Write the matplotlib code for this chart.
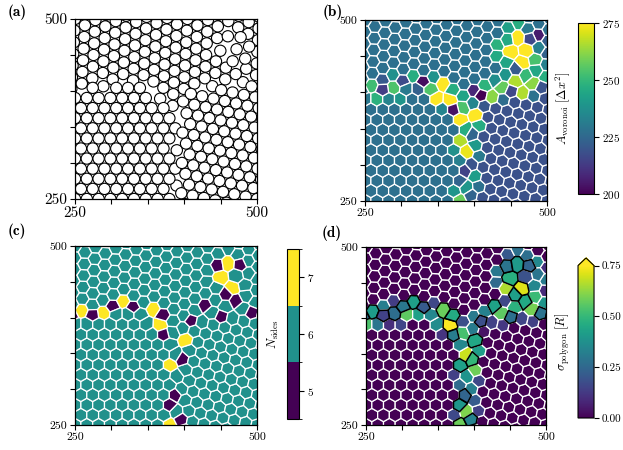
import numpy as np
import matplotlib
matplotlib.use("Agg")
import matplotlib.pyplot as plt
import matplotlib.tri as mtri
from matplotlib.collections import PolyCollection, PatchCollection
from matplotlib.colors import ListedColormap, BoundaryNorm, Normalize
from matplotlib.patches import Circle
from matplotlib.cm import ScalarMappable

plt.rcParams['mathtext.fontset'] = 'cm'
plt.rcParams['font.family'] = 'cmr10'
plt.rcParams['axes.formatter.use_mathtext'] = True

# grains: lattice angle (deg), spacing, origin
# top, lower left, right, small island in the top right corner
grain_angle = [27.0, 0.0, -12.0, 12.0]
grain_spacing = [16.2, 16.2, 15.9, 17.6]
grain_origin_x = [250.0, 250.0, 500.0, 472.0]
grain_origin_y = [500.0, 250.0, 250.0, 458.0]

# boundary between the top grain and the two lower ones (y as a function of x)
top_edge_x = [150, 250, 300, 345, 370, 390, 410, 440, 480, 500, 600]
top_edge_y = [398, 400, 410, 415, 382, 372, 402, 408, 412, 410, 410]
# boundary between the lower left and the right grain (x as a function of y)
side_edge_y = [150, 250, 300, 330, 372]
side_edge_x = [392, 392, 387, 396, 392]
# island in the top right corner
island_x, island_y, island_r = 472.0, 458.0, 19.0

R = 7.8
lims = (250, 500)
ticks = [250, 300, 350, 400, 450, 500]
ticklabels = ['250', '', '', '', '', '500']

area_range = (200, 275)
area_ticks = [200, 225, 250, 275]
sides_ticks = [5, 6, 7]
sigma_range = (0.0, 0.75)
sigma_ticks = [0.0, 0.25, 0.5, 0.75]


def grain_of(px, py):
    yb = np.interp(px, top_edge_x, top_edge_y)
    xb = np.interp(py, side_edge_y, side_edge_x)
    g = np.where(py > yb, 0, np.where(px < xb, 1, 2))
    return np.where(np.hypot(px - island_x, py - island_y) < island_r, 3, g)


# build the particle positions grain by grain, merging pairs that sit too close
pts = np.zeros((0, 2))
for g in range(4):
    th = np.radians(grain_angle[g])
    a = grain_spacing[g]
    e1 = a * np.array([np.cos(th), np.sin(th)])
    e2 = a * np.array([np.cos(th + np.pi / 3), np.sin(th + np.pi / 3)])
    I, J = np.meshgrid(np.arange(-45, 46), np.arange(-45, 46))
    P = np.array([grain_origin_x[g], grain_origin_y[g]]) + I.ravel()[:, None] * e1 + J.ravel()[:, None] * e2
    P = P[(P[:, 0] > 180) & (P[:, 0] < 570) & (P[:, 1] > 180) & (P[:, 1] < 570)]
    P = P[grain_of(P[:, 0], P[:, 1]) == g]
    if len(pts):
        D = np.sqrt(((P[:, None, :] - pts[None, :, :]) ** 2).sum(-1))
        near = D.argmin(1)
        close = D.min(1) < 0.62 * a
        for p, k in zip(P[close], near[close]):
            pts[k] = 0.5 * (pts[k] + p)
        P = P[~close]
    pts = np.vstack([pts, P])

x, y = pts[:, 0], pts[:, 1]

# voronoi cells from the delaunay triangulation
tri = mtri.Triangulation(x, y)
T = tri.triangles
ax_, ay_ = x[T[:, 0]], y[T[:, 0]]
bx_, by_ = x[T[:, 1]], y[T[:, 1]]
cx_, cy_ = x[T[:, 2]], y[T[:, 2]]
dd = 2 * (ax_ * (by_ - cy_) + bx_ * (cy_ - ay_) + cx_ * (ay_ - by_))
ux = ((ax_**2 + ay_**2) * (by_ - cy_) + (bx_**2 + by_**2) * (cy_ - ay_) + (cx_**2 + cy_**2) * (ay_ - by_)) / dd
uy = ((ax_**2 + ay_**2) * (cx_ - bx_) + (bx_**2 + by_**2) * (ax_ - cx_) + (cx_**2 + cy_**2) * (bx_ - ax_)) / dd

owner = [[] for _ in range(len(x))]
for t, (i, j, k) in enumerate(T):
    owner[i].append(t)
    owner[j].append(t)
    owner[k].append(t)

polys, areas, nsides, sigmas = [], [], [], []
for i in range(len(x)):
    if not (225 < x[i] < 525 and 225 < y[i] < 525):
        continue
    v = np.column_stack([ux[owner[i]], uy[owner[i]]])
    ang = np.arctan2(v[:, 1] - y[i], v[:, 0] - x[i])
    v = v[np.argsort(ang)]
    keep = [v[0]]
    for p in v[1:]:
        if np.hypot(*(p - keep[-1])) > 1.0:
            keep.append(p)
    if len(keep) > 1 and np.hypot(*(keep[0] - keep[-1])) < 1.0:
        keep.pop()
    v = np.array(keep)
    edges = np.hypot(*(np.roll(v, -1, axis=0) - v).T)
    area = 0.5 * abs(np.dot(v[:, 0], np.roll(v[:, 1], -1)) - np.dot(v[:, 1], np.roll(v[:, 0], -1)))
    polys.append(v)
    areas.append(area)
    nsides.append(len(v))
    sigmas.append(edges.std() / 7.0)

areas = np.array(areas)
nsides = np.array(nsides)
sigmas = np.array(sigmas)

fig = plt.figure(figsize=(6.23, 4.5), dpi=100)


def setup(ax, size):
    ax.set_xlim(*lims)
    ax.set_ylim(*lims)
    ax.set_xticks(ticks)
    ax.set_yticks(ticks)
    ax.set_xticklabels(ticklabels)
    ax.set_yticklabels(ticklabels)
    ax.tick_params(direction='out', length=3.5, width=0.8, labelsize=size, pad=2)
    for s in ax.spines.values():
        s.set_linewidth(0.9)


# (a) particles
ax1 = fig.add_axes([0.1204, 0.5578, 0.2921, 0.4])
circles = [Circle((px, py), R) for px, py in zip(x, y)]
ax1.add_collection(PatchCollection(circles, facecolor='white', edgecolor='black', linewidth=0.8))
setup(ax1, 11)

# (b) voronoi area
ax2 = fig.add_axes([0.5859, 0.5533, 0.2921, 0.4022])
norm_a = Normalize(*area_range)
pc = PolyCollection(polys, array=areas, cmap='viridis', norm=norm_a, edgecolors='white', linewidths=0.9)
ax2.add_collection(pc)
setup(ax2, 8.5)
cax2 = fig.add_axes([0.9278, 0.5689, 0.0257, 0.38])
cb2 = fig.colorbar(pc, cax=cax2, ticks=area_ticks)
cb2.set_label(r'$A_{\rm voronoi}\ [\Delta x^2]$', fontsize=9)

# (c) number of sides
ax3 = fig.add_axes([0.1204, 0.0556, 0.2921, 0.3978])
vir = plt.get_cmap('viridis')
cmap_s = ListedColormap([vir(0.0), vir(0.5), vir(1.0)])
norm_s = BoundaryNorm([4.5, 5.5, 6.5, 7.5], 3)
pc3 = PolyCollection(polys, array=np.clip(nsides, 5, 7), cmap=cmap_s, norm=norm_s,
                     edgecolors='white', linewidths=0.9)
ax3.add_collection(pc3)
setup(ax3, 8.5)
cax3 = fig.add_axes([0.4607, 0.0689, 0.0193, 0.3778])
cb3 = fig.colorbar(ScalarMappable(norm=norm_s, cmap=cmap_s), cax=cax3, ticks=sides_ticks)
cb3.set_label(r'$N_{\rm sides}$', fontsize=9)

# (d) polygon irregularity
ax4 = fig.add_axes([0.5875, 0.0556, 0.2889, 0.3956])
norm_d = Normalize(*sigma_range)
pc4 = PolyCollection(polys, array=sigmas, cmap='viridis', norm=norm_d, edgecolors='white', linewidths=0.9)
ax4.add_collection(pc4)
bad = nsides != 6
pc4b = PolyCollection([p for p, b in zip(polys, bad) if b], array=sigmas[bad], cmap='viridis',
                      norm=norm_d, edgecolors='black', linewidths=1.1)
ax4.add_collection(pc4b)
setup(ax4, 8.5)
cax4 = fig.add_axes([0.9278, 0.0711, 0.0257, 0.3556])
cb4 = fig.colorbar(pc4, cax=cax4, ticks=sigma_ticks, extend='max', format='%.2f')
cb4.set_label(r'$\sigma_{\rm polygon}\ [R]$', fontsize=9)

for cb in (cb2, cb3, cb4):
    cb.ax.yaxis.set_label_position('left')
    cb.ax.tick_params(labelsize=8, length=3.5, width=0.8, pad=2)
    cb.outline.set_linewidth(0.8)

for lab, px, py in [('(a)', 17, 12), ('(b)', 333, 12), ('(c)', 17, 231), ('(d)', 332, 233)]:
    fig.text(px / 623, 1 - py / 450, lab, family='cmb10', fontsize=11, ha='center', va='center')

fig.savefig('out.png', dpi=100)
